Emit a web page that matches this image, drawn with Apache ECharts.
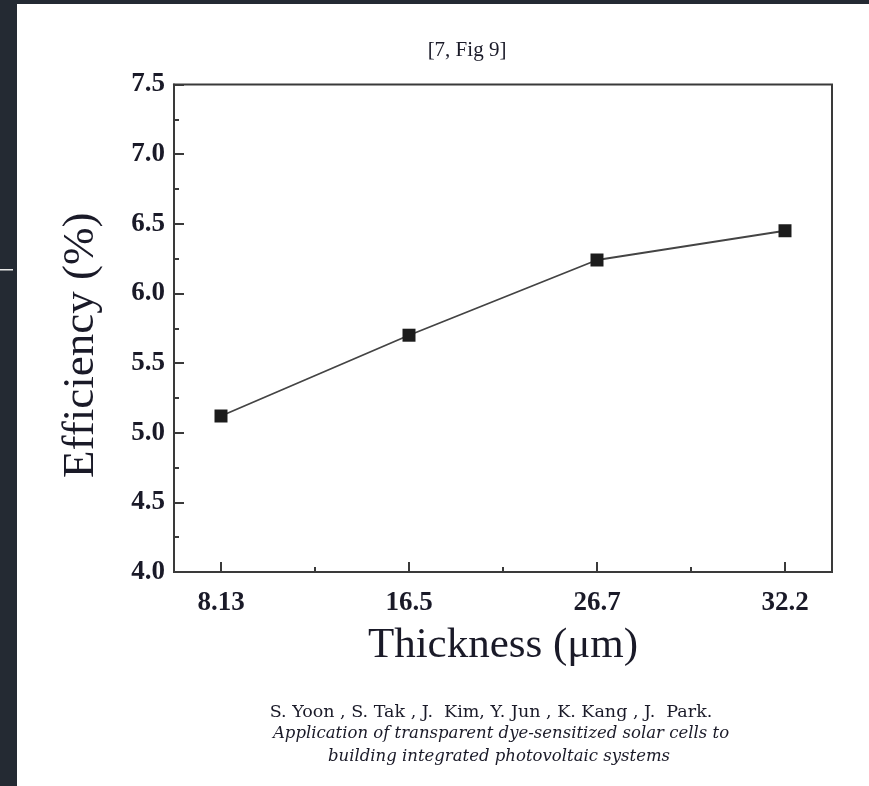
<!DOCTYPE html>
<html>
<head>
<meta charset="utf-8">
<script src="https://cdn.jsdelivr.net/npm/echarts@6/dist/echarts.min.js"></script>
<style>
  html, body { margin: 0; padding: 0; background: #fff; }
  #chart { width: 869px; height: 786px; }
</style>
</head>
<body>
<div id="chart"></div>
<script>
// values
const thicknessLabels = ['8.13', '16.5', '26.7', '32.2']
const efficiency = [5.12, 5.70, 6.24, 6.45]
const majorTicks = [0, 1, 2, 3]
const minorTicks = [0.5, 1.5, 2.5]

const captionLines = [
  'S. Yoon , S. Tak , J.  Kim, Y. Jun , K. Kang , J.  Park.',
  'Application of transparent dye-sensitized solar cells to',
  'building integrated photovoltaic systems'
]

const ink = '#1a1a28'
const frame = '#3a3a3a'
const serif = 'Liberation Serif'

const chart = echarts.init(document.getElementById('chart'))

chart.setOption({
  backgroundColor: '#fff',
  animation: false,
  title: {
    text: '[7, Fig 9]',
    left: 462,
    top: 35,
    textAlign: 'center',
    textStyle: { fontFamily: serif, fontSize: 21, fontWeight: 'normal', color: ink }
  },
  graphic: [
    // dark page border round the screenshot
    { type: 'rect', shape: { x: 0, y: 0, width: 869, height: 4 }, style: { fill: '#242a33' } },
    { type: 'rect', shape: { x: 0, y: 0, width: 17, height: 786 }, style: { fill: '#242a33' } },
    { type: 'rect', shape: { x: 0, y: 269, width: 13, height: 1.5 }, style: { fill: '#e8e8e8' } },
    {
      type: 'text', x: 491, y: 712,
      style: { text: captionLines[0], font: '17.5px "DejaVu Serif"', fill: ink, textAlign: 'center', textVerticalAlign: 'middle' }
    },
    {
      type: 'text', x: 501, y: 734,
      style: { text: captionLines[1], font: 'italic 16.5px "DejaVu Serif"', fill: ink, textAlign: 'center', textVerticalAlign: 'middle' }
    },
    {
      type: 'text', x: 499, y: 757,
      style: { text: captionLines[2], font: 'italic 16.5px "DejaVu Serif"', fill: ink, textAlign: 'center', textVerticalAlign: 'middle' }
    }
  ],
  grid: {
    left: 174, right: 37, top: 84.5, bottom: 214,
    show: true, borderColor: frame, borderWidth: 2, backgroundColor: 'transparent'
  },
  xAxis: [
    {
      type: 'value', min: -0.25, max: 3.25,
      name: 'Thickness (μm)',
      nameLocation: 'middle',
      nameGap: 52,
      nameTextStyle: { fontFamily: serif, fontSize: 43, color: ink },
      axisLine: { show: true, onZero: false, lineStyle: { color: frame, width: 2 } },
      axisTick: { show: true, inside: true, length: 10, customValues: majorTicks, lineStyle: { color: frame, width: 2 } },
      axisLabel: {
        customValues: majorTicks,
        margin: 18,
        formatter: v => thicknessLabels[Math.round(v)],
        fontFamily: serif, fontSize: 27, fontWeight: 'bold', color: ink
      },
      splitLine: { show: false }
    },
    {
      type: 'value', min: -0.25, max: 3.25, position: 'bottom',
      axisLine: { show: false, onZero: false },
      axisTick: { show: true, inside: true, length: 5, customValues: minorTicks, lineStyle: { color: frame, width: 2 } },
      axisLabel: { show: false },
      splitLine: { show: false }
    }
  ],
  yAxis: {
    type: 'value', min: 4, max: 7.5, interval: 0.5,
    name: 'Efficiency (%)',
    nameLocation: 'middle',
    nameGap: 70,
    nameTextStyle: { fontFamily: serif, fontSize: 45, color: ink, padding: [0, 34, 0, 0] },
    axisLine: { show: true, onZero: false, lineStyle: { color: frame, width: 2 } },
    axisTick: { show: true, inside: true, length: 10, lineStyle: { color: frame, width: 2 } },
    minorTick: { show: true, splitNumber: 2, length: 5, lineStyle: { color: frame, width: 2 } },
    axisLabel: {
      margin: 9,
      formatter: v => v.toFixed(1),
      fontFamily: serif, fontSize: 27, fontWeight: 'bold', color: ink
    },
    splitLine: { show: false }
  },
  series: [{
    type: 'line',
    data: efficiency.map((v, i) => [i, v]),
    symbol: 'rect',
    symbolSize: 13,
    lineStyle: { color: '#444', width: 1.8 },
    itemStyle: { color: '#1c1c1c', borderColor: '#1c1c1c', borderWidth: 0 }
  }]
})
</script>
</body>
</html>
